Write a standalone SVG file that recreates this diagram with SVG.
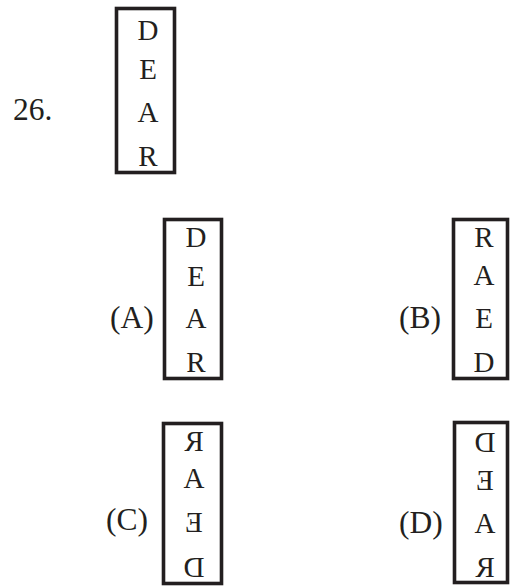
<svg xmlns="http://www.w3.org/2000/svg" width="510" height="586" viewBox="0 0 510 586">
<style>
.box{fill:#fff;stroke:#231f20;stroke-width:3.6}
.lt{font-family:"Liberation Serif","Times New Roman",serif;font-size:29px;fill:#231f20;text-anchor:middle}
.lb{font-family:"Liberation Serif","Times New Roman",serif;font-size:31.5px;fill:#231f20}
</style>
<rect width="510" height="586" fill="#fff"/>
<g id="question">
<text class="lb" x="13" y="120">26.</text>
<rect class="box" x="116.5" y="8.5" width="58" height="164"/>
<text class="lt" x="148" y="40">D</text>
<text class="lt" x="148" y="79">E</text>
<text class="lt" x="148" y="122">A</text>
<text class="lt" x="148" y="166">R</text>
</g>
<g id="optionA">
<text class="lb" x="110" y="328">(A)</text>
<rect class="box" x="164.5" y="219.5" width="57" height="159"/>
<text class="lt" x="196" y="247">D</text>
<text class="lt" x="196" y="286">E</text>
<text class="lt" x="196" y="328">A</text>
<text class="lt" x="196" y="372">R</text>
</g>
<g id="optionB">
<text class="lb" x="399" y="328">(B)</text>
<rect class="box" x="453.5" y="219.5" width="54" height="159"/>
<text class="lt" x="484" y="247">R</text>
<text class="lt" x="484" y="285">A</text>
<text class="lt" x="484" y="328">E</text>
<text class="lt" x="484" y="372">D</text>
</g>
<g id="optionC">
<text class="lb" x="106" y="530">(C)</text>
<rect class="box" x="163.5" y="423.5" width="58" height="160"/>
<text class="lt" transform="translate(194,0) scale(-1,1)" x="0" y="451">R</text>
<text class="lt" x="194" y="488">A</text>
<text class="lt" transform="translate(194,0) scale(-1,1)" x="0" y="532">E</text>
<text class="lt" transform="translate(194,0) scale(-1,1)" x="0" y="577">D</text>
</g>
<g id="optionD">
<text class="lb" x="399" y="533">(D)</text>
<rect class="box" x="454.5" y="422.5" width="53" height="160"/>
<text class="lt" transform="translate(485,0) scale(-1,1)" x="0" y="452">D</text>
<text class="lt" transform="translate(485,0) scale(-1,1)" x="0" y="490">E</text>
<text class="lt" x="485" y="533">A</text>
<text class="lt" transform="translate(485,0) scale(-1,1)" x="0" y="577">R</text>
</g>
<g id="connectors"/>
</svg>
